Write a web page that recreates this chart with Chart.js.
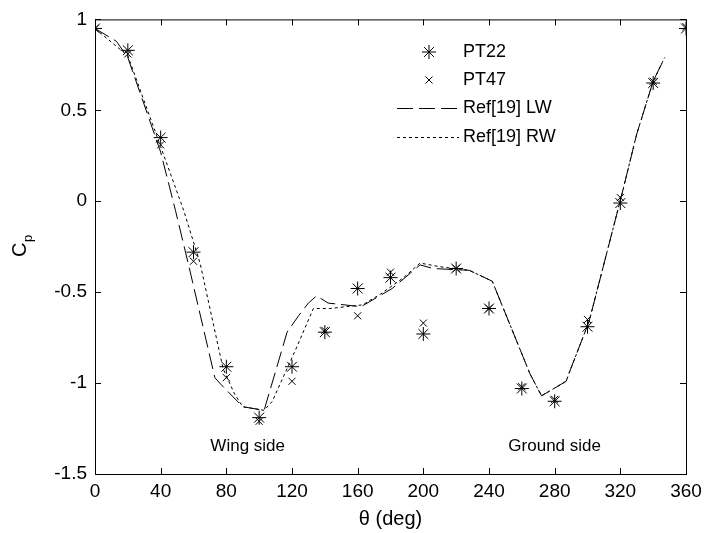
<!DOCTYPE html>
<html>
<head>
<meta charset="utf-8">
<script src="https://cdn.jsdelivr.net/npm/chart.js@4.4.1/dist/chart.umd.min.js"></script>
<style>
  html, body { margin: 0; padding: 0; background: #fff; }
  #wrap { width: 709px; height: 533px; }
</style>
</head>
<body>
<div id="wrap"><canvas id="cpChart" width="709" height="533"></canvas></div>
<script>
// measured points (every 20 deg)
const theta = [0, 20, 40, 60, 80, 100, 120, 140, 160, 180, 200, 220, 240, 260, 280, 300, 320, 340, 360];
const pt22 = [0.95, 0.83, 0.35, -0.28, -0.91, -1.19, -0.91, -0.72, -0.48, -0.42, -0.73, -0.37, -0.59, -1.03, -1.10, -0.69, -0.01, 0.65, 0.95];
const pt47 = [0.95, 0.81, 0.31, -0.33, -0.97, -1.21, -0.99, -0.71, -0.63, -0.39, -0.67, -0.37, -0.59, -1.02, -1.09, -0.65, 0.02, 0.66, 0.96];

// Ref[19] curves
const lwTheta = [0, 13, 20, 40, 49, 57, 73, 77, 90, 103, 117, 124, 130, 135, 142, 162, 181, 198, 206, 228, 242, 265, 272, 287, 289, 301, 321, 330, 340, 347];
const lwCp = [0.95, 0.88, 0.79, 0.27, -0.05, -0.35, -0.97, -1.01, -1.13, -1.15, -0.72, -0.63, -0.56, -0.52, -0.56, -0.58, -0.48, -0.35, -0.37, -0.38, -0.44, -0.95, -1.07, -0.99, -0.94, -0.66, 0.04, 0.37, 0.66, 0.79];
const rwTheta = [0, 20, 40, 54, 64, 78, 85, 90, 103, 108, 123, 133, 143, 163, 174, 188, 198, 210, 228, 242, 265, 272, 287, 289, 301, 321, 330, 340, 347];
const rwCp = [0.95, 0.80, 0.30, -0.05, -0.34, -0.92, -1.06, -1.13, -1.15, -1.10, -0.80, -0.59, -0.59, -0.57, -0.51, -0.42, -0.34, -0.36, -0.38, -0.44, -0.95, -1.07, -0.99, -0.94, -0.66, 0.04, 0.37, 0.66, 0.79];

const xTicks = ['0', '40', '80', '120', '160', '200', '240', '280', '320', '360'];
const yTicks = ['-1.5', '-1', '-0.5', '0', '0.5', '1'];

const FONT = "'Liberation Sans', Arial, sans-serif";

const toXY = (xs, ys) => xs.map((x, i) => ({ x: x, y: ys[i] }));

// box, inward ticks, labels, legend
const decor = {
    id: 'decor',
    afterDraw(chart) {
        const c = chart.ctx;
        const a = chart.chartArea;
        const xs = chart.scales.x;
        const ys = chart.scales.y;
        c.save();
        c.strokeStyle = '#000';
        c.lineWidth = 1;
        c.strokeRect(a.left + 0.5, a.top + 0.5, a.right - a.left, a.bottom - a.top);

        c.beginPath();
        xTicks.forEach(t => {
            const px = Math.round(xs.getPixelForValue(Number(t))) + 0.5;
            c.moveTo(px, a.bottom); c.lineTo(px, a.bottom - 6);
            c.moveTo(px, a.top); c.lineTo(px, a.top + 6);
        });
        yTicks.forEach(t => {
            const py = Math.round(ys.getPixelForValue(Number(t))) + 0.5;
            c.moveTo(a.left, py); c.lineTo(a.left + 6, py);
            c.moveTo(a.right, py); c.lineTo(a.right - 6, py);
        });
        c.stroke();

        // annotations
        c.fillStyle = '#000';
        c.font = '17px ' + FONT;
        c.textAlign = 'center';
        c.textBaseline = 'middle';
        c.fillText('Wing side', xs.getPixelForValue(93), ys.getPixelForValue(-1.35));
        c.fillText('Ground side', xs.getPixelForValue(280), ys.getPixelForValue(-1.35));

        // axis titles
        c.font = '20px ' + FONT;
        c.fillText('\u03b8 (deg)', (a.left + a.right) / 2, 519);
        c.save();
        c.translate(20, 250);
        c.rotate(-Math.PI / 2);
        c.textAlign = 'left';
        c.fillText('C', -7, 0);
        c.font = '13px ' + FONT;
        c.fillText('p', 8, 8);
        c.restore();

        // legend
        const items = chart.data.datasets;
        const rows = [52, 80, 108, 137];
        c.font = '18px ' + FONT;
        c.textAlign = 'left';
        items.forEach((ds, i) => {
            const y = rows[i];
            c.strokeStyle = '#000';
            c.lineWidth = 1;
            if (ds.showLine === false) {
                Chart.helpers.drawPoint(c, { pointStyle: ds.pointStyle, radius: ds.pointRadius, rotation: 0, borderWidth: 1 }, 429, y);
            } else {
                c.setLineDash(ds.borderDash);
                c.beginPath();
                c.moveTo(397, y + 0.5); c.lineTo(459, y + 0.5);
                c.stroke();
                c.setLineDash([]);
            }
            c.fillText(ds.label, 463, y);
        });
        c.restore();
    }
};

new Chart(document.getElementById('cpChart'), {
    type: 'scatter',
    data: {
        datasets: [
            {
                label: 'PT22',
                data: toXY(theta, pt22),
                showLine: false,
                pointStyle: 'star',
                pointRadius: 7,
                borderColor: '#000',
                backgroundColor: '#000',
                borderWidth: 1
            },
            {
                label: 'PT47',
                data: toXY(theta, pt47),
                showLine: false,
                pointStyle: 'crossRot',
                pointRadius: 5,
                borderColor: '#000',
                backgroundColor: '#000',
                borderWidth: 1
            },
            {
                label: 'Ref[19] LW',
                data: toXY(lwTheta, lwCp),
                showLine: true,
                pointRadius: 0,
                borderColor: '#000',
                borderWidth: 1,
                borderDash: [16, 6]
            },
            {
                label: 'Ref[19] RW',
                data: toXY(rwTheta, rwCp),
                showLine: true,
                pointRadius: 0,
                borderColor: '#000',
                borderWidth: 1,
                borderDash: [3, 3]
            }
        ]
    },
    options: {
        responsive: false,
        animation: false,
        layout: { padding: { left: 0, top: 14, right: 23, bottom: 0 } },
        plugins: {
            legend: { display: false },
            tooltip: { enabled: false }
        },
        scales: {
            x: {
                type: 'linear',
                min: 0,
                max: 360,
                afterFit: s => { s.height = 59; },
                afterBuildTicks: s => { s.ticks = xTicks.map(t => ({ value: Number(t) })); },
                ticks: {
                    color: '#000',
                    padding: 6,
                    font: { family: FONT, size: 19 },
                    maxRotation: 0,
                    callback: v => xTicks.find(t => Number(t) === v)
                },
                grid: { drawOnChartArea: false, drawTicks: false },
                border: { display: false }
            },
            y: {
                type: 'linear',
                min: -1.5,
                max: 1,
                afterFit: s => { s.width = 95; },
                afterBuildTicks: s => { s.ticks = yTicks.map(t => ({ value: Number(t) })); },
                ticks: {
                    color: '#000',
                    padding: 8,
                    font: { family: FONT, size: 19 },
                    callback: v => yTicks.find(t => Number(t) === v)
                },
                grid: { drawOnChartArea: false, drawTicks: false },
                border: { display: false }
            }
        }
    },
    plugins: [decor]
});
</script>
</body>
</html>
